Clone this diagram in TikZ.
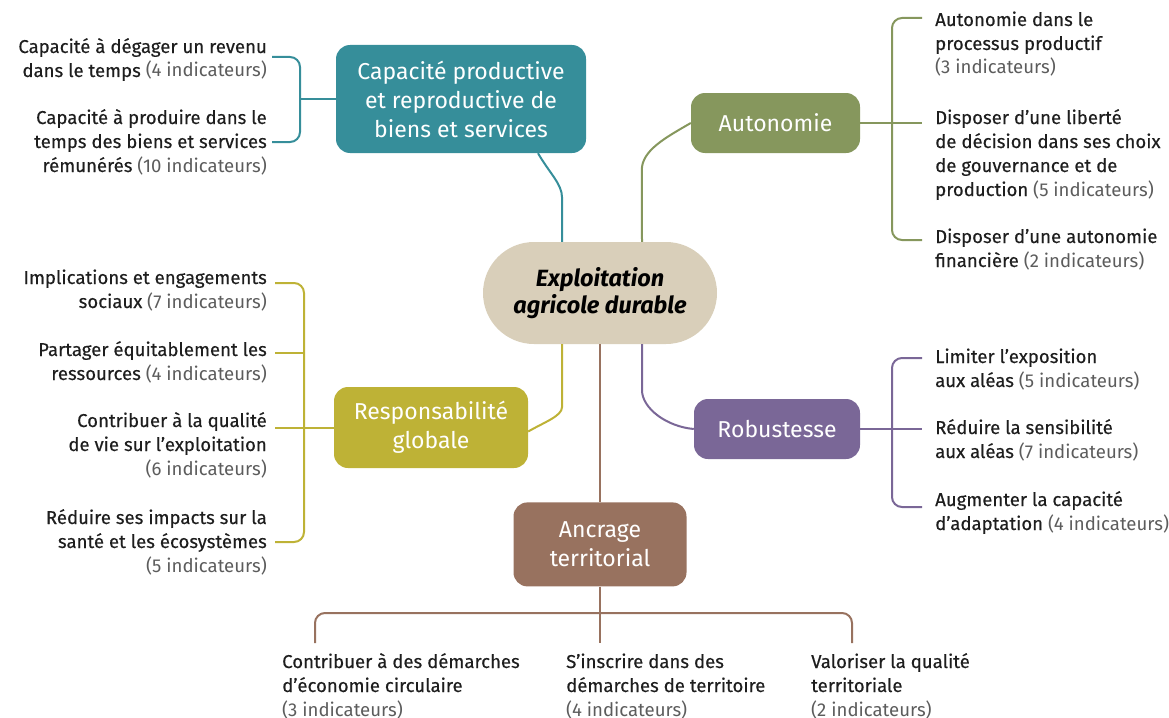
\documentclass[tikz,border=0pt]{standalone}
\usepackage{fontspec}
\setmainfont{Fira Sans}
\newfontfamily\itemfont{Fira Sans}[FakeBold=0.35]
\usepackage{xcolor}
\usepackage{tikz}
\usetikzlibrary{positioning}

\definecolor{tealx}{HTML}{368E9A}
\definecolor{greenx}{HTML}{86975D}
\definecolor{yellowx}{HTML}{BEB236}
\definecolor{purplex}{HTML}{7A6797}
\definecolor{brownx}{HTML}{98725F}
\definecolor{beigex}{HTML}{D9CFBA}
\definecolor{itemtext}{HTML}{1E1E1E}
\definecolor{countgrey}{HTML}{5C5C5C}
\newcommand{\nbind}[1]{{\normalfont\color{countgrey}(#1 indicateurs)}}

\begin{document}
\begin{tikzpicture}[x=1pt, y=1pt]
            \tikzset{
                root/.style={fill=beigex, rounded corners=51pt, minimum width=234pt, minimum height=102pt, align=center, font=\fontsize{23.5}{27}\selectfont\bfseries\itshape},
                theme_box/.style={fill=#1, rounded corners=14pt, text=white, align=center, font=\fontsize{23}{29}\selectfont},
                item_left/.style={anchor=base east, align=right, inner sep=0pt, text=itemtext, font=\fontsize{18.6}{24}\selectfont\itemfont},
                item_right/.style={anchor=base west, align=left, inner sep=0pt, text=itemtext, font=\fontsize{18.6}{24}\selectfont\itemfont},
                link/.style={draw=#1, line width=2pt, rounded corners=10pt}
            }
            \useasboundingbox (0,0) rectangle (1169,-717);
            \node[root] (centre) at (600,-293) {Exploitation\\agricole durable};
            \node[theme_box=tealx, minimum width=250pt, minimum height=108pt] (capa) at (461,-99) {Capacité productive\\et reproductive de\\biens et services};
            \node[theme_box=greenx, minimum width=169pt, minimum height=60pt] (auto) at (775.5,-123) {Autonomie};
            \node[theme_box=yellowx, minimum width=194pt, minimum height=81pt] (resp) at (431,-427.5) {Responsabilité\\globale};
            \node[theme_box=purplex, minimum width=166pt, minimum height=60pt] (robu) at (777,-429) {Robustesse};
            \node[theme_box=brownx, minimum width=173pt, minimum height=84pt, below=158pt of centre] (ancr) {Ancrage\\territorial};

            \node[item_left] (capa1) at (267,-77) {Capacité à dégager un revenu\\dans le temps \nbind{4}};
            \node[item_left] (capa2) at (267,-172) {Capacité à produire dans le\\temps des biens et services\\rémunérés \nbind{10}};
            \node[item_left] (resp1) at (267,-308) {Implications et engagements\\sociaux \nbind{7}};
            \node[item_left] (resp2) at (267,-380) {Partager équitablement les\\ressources \nbind{4}};
            \node[item_left] (resp3) at (267,-475) {Contribuer à la qualité\\de vie sur l’exploitation\\\nbind{6}};
            \node[item_left] (resp4) at (267,-572) {Réduire ses impacts sur la\\santé et les écosystèmes\\\nbind{5}};
            \node[item_right] (auto1) at (935,-74) {Autonomie dans le\\processus productif\\\nbind{3}};
            \node[item_right] (auto2) at (935,-196) {Disposer d’une liberté\\de décision dans ses choix\\de gouvernance et de\\production \nbind{5}};
            \node[item_right] (auto3) at (935,-267) {Disposer d’une autonomie\\financière \nbind{2}};
            \node[item_right] (robu1) at (935,-387) {Limiter l’exposition\\aux aléas \nbind{5}};
            \node[item_right] (robu2) at (935,-458) {Réduire la sensibilité\\aux aléas \nbind{7}};
            \node[item_right] (robu3) at (935,-530) {Augmenter la capacité\\d’adaptation \nbind{4}};
            \node[item_right] (ancr1) at (282,-716) {Contribuer à des démarches\\d’économie circulaire\\\nbind{3}};
            \node[item_right] (ancr2) at (566,-716) {S’inscrire dans des\\démarches de territoire\\\nbind{4}};
            \node[item_right] (ancr3) at (811,-716) {Valoriser la qualité\\territoriale\\\nbind{2}};

            \coordinate (tA) at (272,-57);
            \coordinate (tB) at (272,-142);
            \coordinate (kT) at (300,-99);
            \coordinate (yA) at (275,-283);
            \coordinate (yB) at (275,-353);
            \coordinate (yC) at (275,-427.5);
            \coordinate (yD) at (275,-542);
            \coordinate (kY) at (304,-427.5);
            \coordinate (gA) at (922,-18);
            \coordinate (gB) at (922,-123);
            \coordinate (gC) at (922,-240);
            \coordinate (kG) at (892,-123);
            \coordinate (pA) at (922,-358);
            \coordinate (pB) at (922,-429);
            \coordinate (pC) at (922,-507);
            \coordinate (kP) at (892,-429);
            \coordinate (bA) at (315,-643);
            \coordinate (bB) at (600,-643);
            \coordinate (bC) at (852,-643);

            \path[link=tealx] ([xshift=77pt]capa.south) to[out=-60, in=90] ++(24,-54) -- ([xshift=-38pt]centre.north);
            \path[link=greenx] (auto.west) to[out=210, in=90] ++(-49,-57) -- ([xshift=42pt]centre.north);
            \path[link=yellowx] ([xshift=-38pt]centre.south) -- ++(0,-53) to[out=-90, in=30] ([yshift=-4pt]resp.east);
            \path[link=purplex] ([xshift=42pt]centre.south) -- ++(0,-36) to[out=-90, in=175] (robu.west);
            \path[link=brownx] (centre.south) -- (ancr.north);
            \path[link=brownx] (ancr.south) -- (bB);

            \path[link=tealx] (tA) -| (kT) |- (tB);
            \path[link=tealx] (capa.west) -- (kT);
            \path[link=yellowx] (yA) -| (kY) |- (yD);
            \path[link=yellowx] (yB) -- (yB -| kY);
            \path[link=yellowx] (resp.west) -- (yC);
            \path[link=greenx] (gA) -| (kG) |- (gC);
            \path[link=greenx] (auto.east) -- (gB);
            \path[link=purplex] (pA) -| (kP) |- (pC);
            \path[link=purplex] (robu.east) -- (pB);
            \path[link=brownx] (bA) -- ++(0,30) -| (bC);
        \end{tikzpicture}
\end{document}
